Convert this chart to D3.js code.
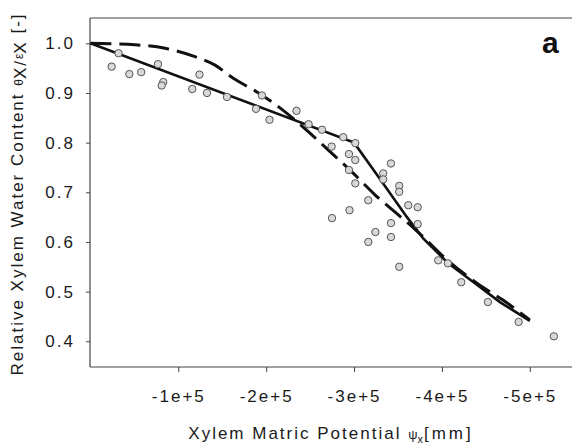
<!DOCTYPE html>
<html><head><meta charset="utf-8">
<script src="https://cdn.jsdelivr.net/npm/d3@7"></script>
<style>body{margin:0;background:#fff}svg{display:block}text{font-family:Arial,"Liberation Sans",sans-serif}</style>
</head><body><svg id="c" width="572" height="445"></svg>
<script>
// observed points
const obsX = [-24200,-32000,-44300,-57800,-76900,-82900,-81100,-115900,-124100,-132700,-155400,-188400,-195200,-203800,-234500,-248300,-263500,-274500,-287700,-301400,-294200,-301400,-294200,-301400,-316200,-294800,-274900,-342000,-333200,-333200,-351400,-351400,-361700,-372400,-372400,-342000,-324300,-342000,-316200,-351400,-395800,-406800,-422000,-452300,-487300,-527400];
const obsY = [0.953,0.980,0.938,0.942,0.958,0.922,0.915,0.908,0.937,0.900,0.892,0.868,0.895,0.846,0.864,0.837,0.826,0.792,0.811,0.799,0.777,0.765,0.745,0.718,0.684,0.664,0.648,0.758,0.738,0.726,0.713,0.701,0.674,0.670,0.636,0.638,0.620,0.610,0.600,0.550,0.563,0.557,0.519,0.479,0.439,0.410];
// solid model
const solidX = [0,-300000,-329500,-359800,-378700,-407200,-437500,-466000,-500000];
const solidY = [1.0,0.800,0.727,0.651,0.607,0.557,0.517,0.479,0.441];
// dashed model
const dashX = [0,-50700,-84900,-119000,-141800,-162200,-189500,-215700,-249800,-274500,-298700,-323800,-348800,-371600,-405700,-439800,-469400,-500000];
const dashY = [1.0,0.997,0.990,0.973,0.956,0.930,0.902,0.870,0.819,0.779,0.739,0.695,0.657,0.622,0.564,0.517,0.483,0.443];
const xTicks = [-100000,-200000,-300000,-400000,-500000];
const xTickLabels = ["-1e+5","-2e+5","-3e+5","-4e+5","-5e+5"];
const yTicks = [0.4,0.5,0.6,0.7,0.8,0.9,1.0];
const yTickLabels = ["0.4","0.5","0.6","0.7","0.8","0.9","1.0"];

const svg = d3.select("#c");
const L=90, R=572, T=18, B=367;
const x = d3.scaleLinear().domain([0,-548000]).range([90.4,572]);
const y = d3.scaleLinear().domain([0.4,1.0]).range([341.3,43.3]);
const axisColor="#444";
const txt="#1a1a1a";

// frame lines
svg.append("line").attr("x1",L).attr("x2",R).attr("y1",T).attr("y2",T).attr("stroke",axisColor).attr("stroke-width",1.2);
svg.append("line").attr("x1",L).attr("x2",R).attr("y1",B).attr("y2",B).attr("stroke",axisColor).attr("stroke-width",1.2);
svg.append("line").attr("x1",L).attr("x2",L).attr("y1",T).attr("y2",B).attr("stroke",axisColor).attr("stroke-width",1.2);

const xa = svg.append("g").attr("transform",`translate(0,${B})`)
  .call(d3.axisBottom(x).tickValues(xTicks).tickFormat((d,i)=>xTickLabels[i]).tickSize(5).tickSizeOuter(0).tickPadding(18));
xa.select(".domain").remove();
xa.selectAll("line").attr("stroke",axisColor);
xa.selectAll("text").attr("font-size",17).attr("letter-spacing","2px").attr("fill",txt).attr("font-family","Arial, 'Liberation Sans', sans-serif");

const ya = svg.append("g").attr("transform",`translate(${L},0)`)
  .call(d3.axisLeft(y).tickValues(yTicks).tickFormat((d,i)=>yTickLabels[i]).tickSize(4).tickSizeOuter(0).tickPadding(11));
ya.select(".domain").remove();
ya.selectAll("line").attr("stroke",axisColor);
ya.selectAll("text").attr("font-size",17).attr("letter-spacing","2px").attr("fill",txt).attr("font-family","Arial, 'Liberation Sans', sans-serif");

// lines
const line = d3.line().x(d=>x(d[0])).y(d=>y(d[1]));
svg.append("path").datum(d3.zip(dashX,dashY)).attr("d",d3.line().x(d=>x(d[0])).y(d=>y(d[1])).curve(d3.curveMonotoneX))
  .attr("fill","none").attr("stroke","#111").attr("stroke-width",3).attr("stroke-dasharray","21,8");
svg.append("path").datum(d3.zip(solidX,solidY)).attr("d",line)
  .attr("fill","none").attr("stroke","#111").attr("stroke-width",2.6).attr("stroke-linejoin","miter");

// points
svg.append("g").selectAll("circle").data(d3.zip(obsX,obsY)).join("circle")
  .attr("cx",d=>x(d[0])).attr("cy",d=>y(d[1])).attr("r",3.7)
  .attr("fill","#d8d8d8").attr("stroke","#555").attr("stroke-width",1);

// panel label
svg.append("text").attr("x",542).attr("y",53).attr("font-size",30).attr("font-weight","bold").attr("fill","#111").text("a");

// x title
const xt = svg.append("text").attr("x",331).attr("y",439).attr("text-anchor","middle").attr("font-size",17).attr("letter-spacing","2px").attr("fill",txt);
xt.append("tspan").text("Xylem Matric Potential ");
xt.append("tspan").attr("font-size",13).attr("letter-spacing","0px").text("ψ");
xt.append("tspan").attr("font-size",11).attr("dy",4).attr("letter-spacing","1px").text("x");
xt.append("tspan").attr("dy",-4).attr("letter-spacing","3px").text("[mm]");

// y title
const yt = svg.append("text").attr("transform","translate(23,194) rotate(-90)").attr("text-anchor","middle").attr("font-size",17).attr("letter-spacing","2px").attr("fill",txt);
yt.append("tspan").text("Relative Xylem Water Content ");
yt.append("tspan").attr("font-size",12).attr("letter-spacing","0px").text("θ");
yt.append("tspan").attr("dy",3).text("X");
yt.append("tspan").text("/");
yt.append("tspan").attr("font-size",12).attr("dy",-3).attr("letter-spacing","0px").text("ε");
yt.append("tspan").attr("dy",3).text("X");
yt.append("tspan").attr("dy",-3).text("  [-]");
</script></body></html>
